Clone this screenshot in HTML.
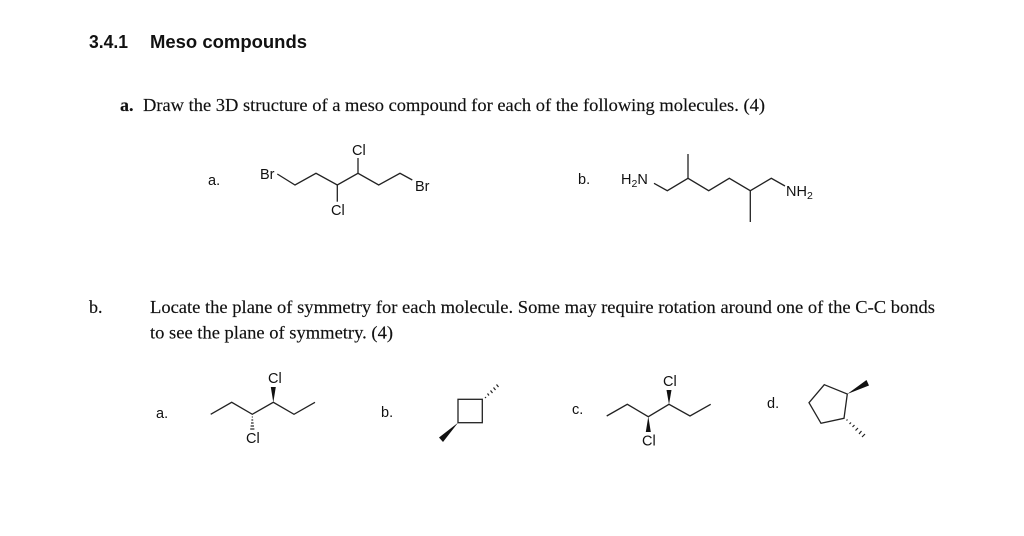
<!DOCTYPE html>
<html><head><meta charset="utf-8">
<style>
html,body{margin:0;padding:0;background:#fff;width:1024px;height:536px;overflow:hidden}
svg{display:block;filter:blur(0.3px)}
.s{font-family:"Liberation Sans",sans-serif;fill:#111}
.t{font-family:"Liberation Serif",serif;fill:#111;font-size:18px;stroke:#111;stroke-width:.15}
.l{font-size:14.5px}
.b{fill:none;stroke:#222;stroke-width:1.3;stroke-linejoin:miter}
.h{stroke:#222;stroke-width:1.2}
</style></head><body>
<svg width="1024" height="536" viewBox="0 0 1024 536" xmlns="http://www.w3.org/2000/svg">
<rect width="1024" height="536" fill="#fff"/>
<text class="s" x="89" y="48" font-size="18" font-weight="700" textLength="39" lengthAdjust="spacingAndGlyphs">3.4.1</text>
<text class="s" x="150" y="48" font-size="18" font-weight="700" textLength="157" lengthAdjust="spacingAndGlyphs">Meso compounds</text>
<text class="t" x="120" y="111" font-weight="700">a.</text>
<text class="t" x="143" y="111" textLength="622" lengthAdjust="spacingAndGlyphs">Draw the 3D structure of a meso compound for each of the following molecules. (4)</text>
<text class="t" x="89" y="313">b.</text>
<text class="t" x="150" y="313" textLength="785" lengthAdjust="spacingAndGlyphs">Locate the plane of symmetry for each molecule. Some may require rotation around one of the C-C bonds</text>
<text class="t" x="150" y="338.5" textLength="243" lengthAdjust="spacingAndGlyphs">to see the plane of symmetry. (4)</text>

<!-- top a -->
<text class="s l" x="208" y="185">a.</text>
<polyline class="b" points="277.3,174 295,185 316,173.3 337.3,185 358,173.3 378.7,185 400,173.3 412.3,180"/>
<line class="b" x1="358" y1="173.3" x2="358" y2="158"/>
<line class="b" x1="337.3" y1="185" x2="337.3" y2="201.7"/>
<text class="s l" x="260" y="179">Br</text>
<text class="s l" x="352" y="155">Cl</text>
<text class="s l" x="331" y="215">Cl</text>
<text class="s l" x="415" y="191">Br</text>

<!-- top b -->
<text class="s l" x="578" y="184">b.</text>
<polyline class="b" points="654,183.3 667.3,190.7 688,178.3 708.7,190.7 729.3,178.3 750.3,190.7 771.3,178.3 785,186"/>
<line class="b" x1="688" y1="178.3" x2="688" y2="154"/>
<line class="b" x1="750.3" y1="190.7" x2="750.3" y2="222"/>
<text class="s l" x="621" y="184">H<tspan font-size="10.5" dy="3">2</tspan><tspan dy="-3">N</tspan></text>
<text class="s l" x="786" y="196">NH<tspan font-size="10.5" dy="3">2</tspan></text>

<!-- bottom a -->
<text class="s l" x="156" y="418">a.</text>
<polyline class="b" points="210.7,414.3 231.7,402.3 252.3,414.3 273.3,402.3 294,414.3 315,402.3"/>
<polygon points="273.3,402.5 270.8,387 275.8,387" fill="#111"/>
<g class="h">
<line x1="251.8" y1="417" x2="252.8" y2="417"/><line x1="251.4" y1="420" x2="253.2" y2="420"/><line x1="251" y1="423" x2="253.6" y2="423"/><line x1="250.6" y1="426" x2="254" y2="426"/><line x1="250.2" y1="429" x2="254.4" y2="429"/>
</g>
<text class="s l" x="268" y="383">Cl</text>
<text class="s l" x="246" y="443">Cl</text>

<!-- bottom b -->
<text class="s l" x="381" y="417">b.</text>
<rect class="b" x="458" y="399.3" width="24.3" height="23.4"/>
<polygon points="458,422.7 439,437.5 443,442" fill="#111"/>
<g class="h">
<line x1="485" y1="397" x2="486" y2="398"/><line x1="487.5" y1="393.5" x2="489" y2="395.5"/><line x1="490.5" y1="390.5" x2="492.5" y2="393"/><line x1="493.5" y1="387.5" x2="495.5" y2="390"/><line x1="496.5" y1="384.5" x2="498.5" y2="387"/>
</g>

<!-- bottom c -->
<text class="s l" x="572" y="414">c.</text>
<polyline class="b" points="606.7,416 627.3,404.3 648.3,416.7 669,404.3 690,416 710.7,404.3"/>
<polygon points="669,404.5 666.5,390 671.5,390" fill="#111"/>
<polygon points="648.3,416.5 645.8,432 650.8,432" fill="#111"/>
<text class="s l" x="663" y="386">Cl</text>
<text class="s l" x="642" y="445.5">Cl</text>

<!-- bottom d -->
<text class="s l" x="767" y="408">d.</text>
<polygon class="b" points="824.3,384.7 847.3,394 844,418.3 821,423.3 809,402.7"/>
<polygon points="847.3,394 866.5,380 869,385.5" fill="#111"/>
<g class="h">
<line x1="846.5" y1="420.5" x2="847.5" y2="419.5"/><line x1="849.5" y1="424" x2="851" y2="422.5"/><line x1="852.5" y1="427" x2="854.5" y2="425"/><line x1="855.5" y1="430.5" x2="858" y2="428"/><line x1="859" y1="434" x2="861.5" y2="431"/><line x1="862" y1="437" x2="865" y2="434"/>
</g>
</svg>
</body></html>
